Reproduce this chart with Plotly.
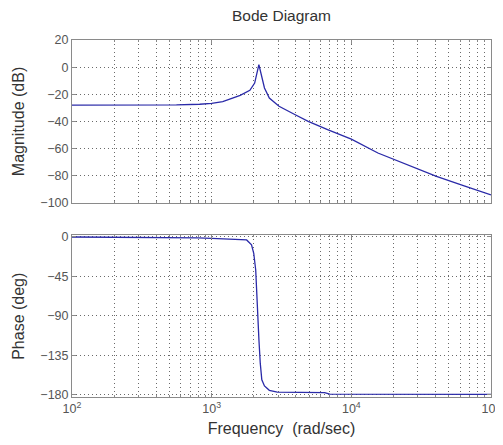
import plotly.graph_objects as go

# ---- data ----
mag_freq = [100, 390, 560, 820, 1000, 1200, 1362, 1600, 1877, 2032, 2178,
            2263, 2388, 2587, 3036, 3965, 4911, 6760, 10000, 15500, 25000,
            40700, 65000, 100000]
mag_db = [-28.0, -28.0, -27.8, -27.3, -26.6, -25.3, -23.4, -20.8, -17.0, -11.7, 1.8,
          -5.5, -15.3, -22.7, -28.8, -35.0, -39.9, -46.0, -53.0, -63.2, -71.5,
          -80.4, -87.5, -94.0]

phase_freq = [100, 500, 800, 1000, 1362, 1780, 1929, 2001, 2067, 2124, 2179,
              2228, 2286, 2388, 2587, 2953, 6440, 7000, 100000]
phase_deg = [0, -0.3, -1.0, -1.5, -2.3, -3.4, -9.0, -18.6, -37.6, -86.8, -117,
             -144, -163, -170, -175, -177, -177.5, -179.3, -179.5]

x_tickvals = [1e2, 1e3, 1e4, 1e5]
x_ticktext = ["10<sup>2</sup>", "10<sup>3</sup>", "10<sup>4</sup>", "10<sup>5</sup>"]
mag_ticks = [20, 0, -20, -40, -60, -80, -100]
phase_ticks = [0, -45, -90, -135, -180]

minor_vals = [m * 10 ** e for e in (2, 3, 4) for m in range(2, 10)]

line_color = "#2a2aa8"
grid_color = "#6a6a6a"
grid_dash = "1px,3px"
axis_color = "#8a8a8a"
tick_font = dict(family="Liberation Sans, Arial", size=12.5, color="#555555")
title_font = dict(family="Liberation Sans, Arial", size=16, color="#333333")
main_title_font = dict(family="Liberation Sans, Arial", size=15.5, color="#333333")

fig = go.Figure()
fig.add_trace(go.Scatter(x=mag_freq, y=mag_db, mode="lines",
                         line=dict(color=line_color, width=1.3),
                         xaxis="x", yaxis="y", showlegend=False))
fig.add_trace(go.Scatter(x=phase_freq, y=phase_deg, mode="lines",
                         line=dict(color=line_color, width=1.3),
                         xaxis="x2", yaxis="y2", showlegend=False))

common_x = dict(type="log", range=[2, 5], showline=True, linecolor=axis_color,
                linewidth=1, mirror="ticks", ticks="inside", ticklen=4,
                tickcolor=axis_color, showgrid=True, gridcolor=grid_color,
                griddash=grid_dash, gridwidth=1, tickvals=x_tickvals, zeroline=False,
                minor=dict(tickvals=minor_vals, ticks="inside", ticklen=2,
                           tickcolor=axis_color, showgrid=True,
                           gridcolor=grid_color, griddash=grid_dash, gridwidth=1))
common_y = dict(showline=True, linecolor=axis_color, linewidth=1, mirror="ticks",
                ticks="inside", ticklen=4, tickcolor=axis_color, showgrid=True,
                gridcolor=grid_color, griddash=grid_dash, gridwidth=1, zeroline=False,
                tickfont=tick_font, title_font=title_font, title_standoff=11)

fig.update_layout(
    width=503, height=445,
    margin=dict(l=62, r=10, t=32, b=56),
    plot_bgcolor="white", paper_bgcolor="white",
    title=dict(text="Bode Diagram", x=0.5, xanchor="center", xref="paper",
               y=0.995, yanchor="top", font=main_title_font),
    xaxis=dict(**common_x, domain=[0, 1], anchor="y", showticklabels=False),
    yaxis=dict(**common_y, domain=[0.5434, 1], range=[-100, 20],
               tickvals=mag_ticks, title_text="Magnitude (dB)"),
    xaxis2=dict(**common_x, domain=[0, 1], anchor="y2", matches="x",
                ticktext=x_ticktext, tickfont=tick_font,
                title_text="Frequency  (rad/sec)", title_font=title_font,
                title_standoff=7),
    yaxis2=dict(**common_y, domain=[0, 0.4524], range=[-182.6, 1.7],
                tickvals=phase_ticks, title_text="Phase (deg)"),
)

fig.write_html("out.html")
